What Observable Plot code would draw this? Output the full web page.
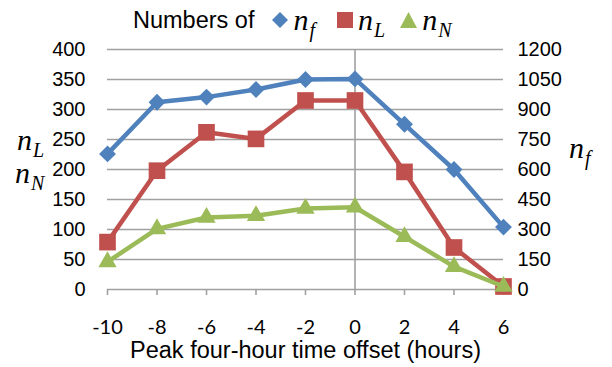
<!DOCTYPE html>
<html>
<head>
<meta charset="utf-8">
<script src="https://cdn.jsdelivr.net/npm/d3@7"></script>
<script src="https://cdn.jsdelivr.net/npm/@observablehq/plot@0.6"></script>
<style>
  html, body { margin: 0; padding: 0; background: #fff; }
  #wrap { position: relative; width: 612px; height: 367px; overflow: hidden; }
  .sans { font-family: "Liberation Sans", Arial, sans-serif; }
  .var { font-family: "Liberation Serif", "Times New Roman", serif; font-style: italic; font-size: 30px; line-height: 1; white-space: nowrap; }
  .var .s { font-size: 20px; position: relative; top: 7px; margin-left: 1px; }
  #legend { position: absolute; left: 133px; top: 2px; display: flex; align-items: center; height: 36px; font-size: 23.5px; color: #000; }
  #legend svg { display: block; }
  .abs { position: absolute; }
</style>
</head>
<body>
<div id="wrap">
  <div id="chart"></div>
  <div id="legend" class="sans">
    <span>Numbers of</span>
    <svg width="16" height="16" style="margin-left:18px"><path d="M8 0L16 8L8 16L0 8Z" fill="#4F81BD"/></svg>
    <span class="var" style="margin-left:5px"><i>n</i><span class="s">f</span></span>
    <svg width="16" height="16" style="margin-left:22px"><rect x="0" y="0" width="16" height="16" fill="#C0504D"/></svg>
    <span class="var" style="margin-left:5px"><i>n</i><span class="s">L</span></span>
    <svg width="17" height="16" style="margin-left:15px"><path d="M8.5 0L17 16L0 16Z" fill="#9BBB59"/></svg>
    <span class="var" style="margin-left:5px"><i>n</i><span class="s">N</span></span>
  </div>
  <div class="abs var" style="left:17px; top:125px">n<span class="s">L</span></div>
  <div class="abs var" style="left:15px; top:158px">n<span class="s">N</span></div>
  <div class="abs var" style="left:569px; top:133px">n<span class="s">f</span></div>
</div>
<script>
// Peak four-hour time offset (hours)
const hours = [-10, -8, -6, -4, -2, 0, 2, 4, 6];
// n_f is read on the right axis, n_L and n_N on the left axis
const nF = [678, 936, 962, 1000, 1050, 1053, 826, 600, 312];
const nL = [79, 198, 262, 251, 315, 315, 196, 70, 5];
const nN = [46, 101, 120, 123, 135, 137, 88, 38, 5];
const leftTicks = [0, 50, 100, 150, 200, 250, 300, 350, 400];
const rightTicks = [0, 150, 300, 450, 600, 750, 900, 1050, 1200];
const xTicks = [-10, -8, -6, -4, -2, 0, 2, 4, 6];

// right axis spans three times the left axis
const ratio = rightTicks[rightTicks.length - 1] / leftTicks[leftTicks.length - 1];

const rows = hours.map((h, i) => ({h, nF: nF[i], nL: nL[i], nN: nN[i]}));

const blue = "#4F81BD", red = "#C0504D", green = "#9BBB59", grid = "#A0A0A0";
const font = "'Liberation Sans', Arial, sans-serif";

const chart = Plot.plot({
  width: 612,
  height: 367,
  marginTop: 49,
  marginBottom: 78,
  marginLeft: 107,
  marginRight: 109,
  style: {fontFamily: font, fontSize: "20px", color: "#000", background: "transparent"},
  x: {domain: [-10, 6]},
  y: {domain: [0, 400]},
  marks: [
    Plot.gridY(leftTicks, {stroke: grid, strokeOpacity: 1, strokeWidth: 1.6}),
    Plot.ruleX([0], {stroke: grid, strokeWidth: 1.6}),
    Plot.axisX(xTicks, {tickSize: 6, tickPadding: 24, stroke: grid, strokeWidth: 1.6, fill: "#000", label: null,
      tickFormat: d => String(d), fontFamily: "Lato, 'Liberation Sans', sans-serif"}),
    Plot.axisY(leftTicks, {anchor: "left", tickSize: 0, tickPadding: 22, label: null}),
    Plot.axisY(rightTicks.map(v => v / ratio), {anchor: "right", tickSize: 0, tickPadding: 14, label: null, tickFormat: v => String(Math.round(v * ratio))}),
    Plot.text(["Peak four-hour time offset (hours)"], {frameAnchor: "bottom", dy: 68, fontSize: 23.5, fill: "#000"}),

    Plot.line(rows, {x: "h", y: d => d.nF / ratio, stroke: blue, strokeWidth: 4.5}),
    Plot.dot(rows, {x: "h", y: d => d.nF / ratio, symbol: "diamond2", r: 7.6, fill: blue, stroke: "none"}),

    Plot.line(rows, {x: "h", y: "nL", stroke: red, strokeWidth: 4.5}),
    Plot.dot(rows, {x: "h", y: "nL", symbol: "square", r: 9.4, fill: red, stroke: "none"}),

    Plot.line(rows, {x: "h", y: "nN", stroke: green, strokeWidth: 4.5}),
    Plot.dot(rows, {x: "h", y: "nN", symbol: "triangle", r: 6.8, fill: green, stroke: "none"})
  ]
});
document.getElementById("chart").appendChild(chart);
</script>
</body>
</html>
